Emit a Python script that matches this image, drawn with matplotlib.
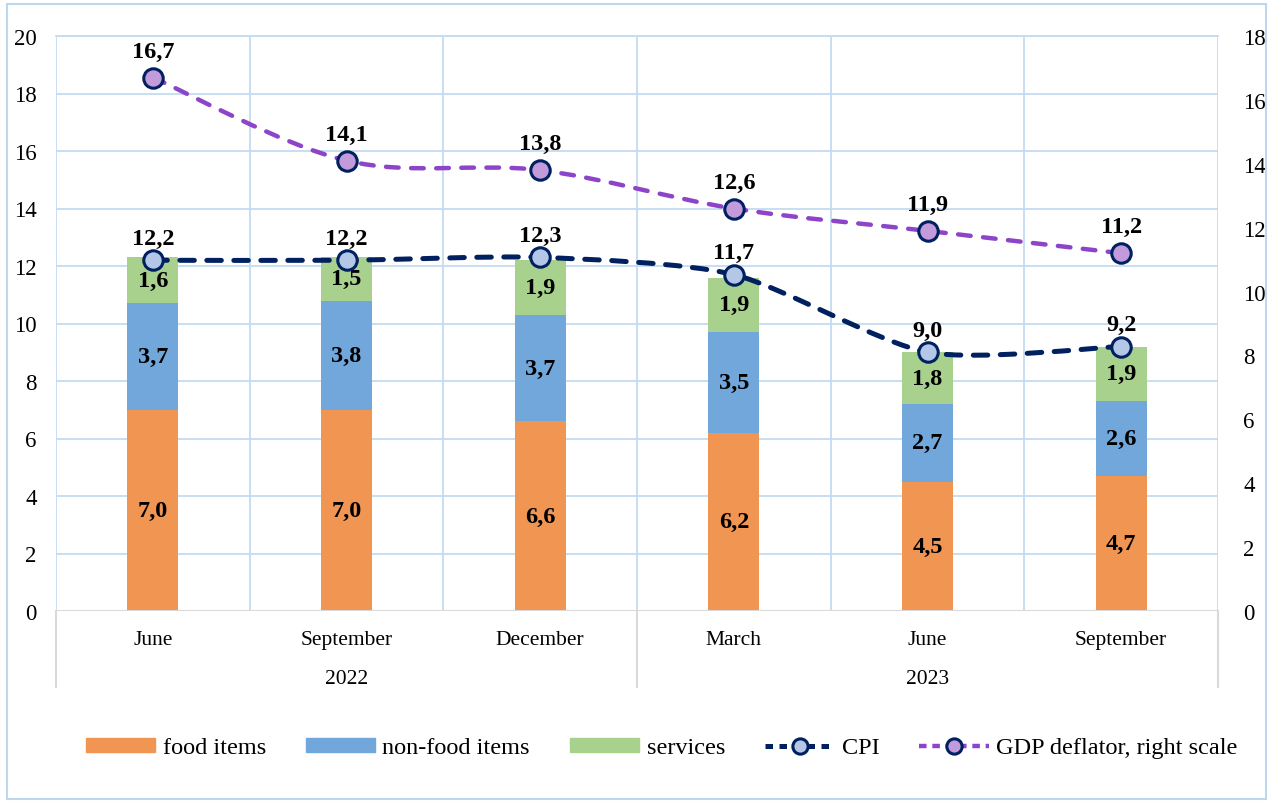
import matplotlib
matplotlib.use("Agg")
import matplotlib.pyplot as plt
import numpy as np
from matplotlib.path import Path
from matplotlib.patches import PathPatch, Patch, Rectangle
from matplotlib.lines import Line2D
import matplotlib.transforms as mtransforms

plt.rcParams['font.family'] = ['Liberation Serif', 'DejaVu Serif']

months = ["June", "September", "December", "March", "June", "September"]
years = ["2022", "2023"]
year_spans = [(0, 2), (3, 5)]
food = [7.0, 7.0, 6.6, 6.2, 4.5, 4.7]
nonfood = [3.7, 3.8, 3.7, 3.5, 2.7, 2.6]
services = [1.6, 1.5, 1.9, 1.9, 1.8, 1.9]
cpi = [12.2, 12.2, 12.3, 11.7, 9.0, 9.2]
gdp = [16.7, 14.1, 13.8, 12.6, 11.9, 11.2]

c_food = '#F19553'
c_nonfood = '#72A7DB'
c_serv = '#A8D18D'
c_cpi = '#002060'
c_cpi_fill = '#B4C7E7'
c_gdp = '#8E44C8'
c_gdp_fill = '#C39BDB'
c_grid = '#C5DBF0'
lbl_size = 17.5


def fmt(v):
    return ("%.1f" % v).replace(".", ",")


def smooth_path(xs, ys, k=6.0):
    # catmull-rom style smoothing as bezier curves (like excel "smoothed line")
    pts = np.column_stack([xs, ys]).astype(float)
    n = len(pts)
    verts = [pts[0]]
    codes = [Path.MOVETO]
    for i in range(n - 1):
        p0 = pts[i - 1] if i > 0 else pts[i]
        p1 = pts[i]
        p2 = pts[i + 1]
        p3 = pts[i + 2] if i + 2 < n else pts[i + 1]
        verts += [p1 + (p2 - p0) / k, p2 - (p3 - p1) / k, p2]
        codes += [Path.CURVE4] * 3
    return Path(verts, codes)


fig = plt.figure(figsize=(12.7, 8.03), dpi=100)
ax = fig.add_axes([56 / 1270, 1 - 612 / 803, 1162 / 1270, 575 / 803])
ax2 = ax.twinx()

x = np.arange(len(months))
w = 0.263
ax.bar(x, food, w, color=c_food, zorder=2)
ax.bar(x, nonfood, w, bottom=food, color=c_nonfood, zorder=2)
bot2 = np.array(food) + np.array(nonfood)
ax.bar(x, services, w, bottom=bot2, color=c_serv, zorder=2)

for i in range(len(x)):
    ax.text(x[i], food[i] / 2, fmt(food[i]), ha='center', va='center', fontsize=lbl_size, fontweight='bold', zorder=5)
    ax.text(x[i], food[i] + nonfood[i] / 2, fmt(nonfood[i]), ha='center', va='center', fontsize=lbl_size, fontweight='bold', zorder=5)
    ax.text(x[i], bot2[i] + services[i] / 2, fmt(services[i]), ha='center', va='center', fontsize=lbl_size, fontweight='bold', zorder=5)

# CPI on left axis
ax.add_patch(PathPatch(smooth_path(x, cpi, 8.0), fill=False, edgecolor=c_cpi, lw=3.6,
                       linestyle=(0, (2.9, 2.5)), capstyle='round', zorder=6))
ax.plot(x, cpi, 'o', ms=14, mfc=c_cpi_fill, mec=c_cpi, mew=2.2, zorder=7)
for i in range(len(x)):
    ax.annotate(fmt(cpi[i]), (x[i], cpi[i]), xytext=(0, 16), textcoords='offset points',
                ha='center', va='center', fontsize=lbl_size, fontweight='bold', zorder=8)

# GDP deflator on right axis
ax2.add_patch(PathPatch(smooth_path(x, gdp), fill=False, edgecolor=c_gdp, lw=3.2,
                        linestyle=(0, (2.85, 2.8)), capstyle='round', zorder=6))
ax2.plot(x, gdp, 'o', ms=14, mfc=c_gdp_fill, mec=c_cpi, mew=2.2, zorder=7)
for i in range(len(x)):
    ax2.annotate(fmt(gdp[i]), (x[i], gdp[i]), xytext=(0, 19), textcoords='offset points',
                 ha='center', va='center', fontsize=lbl_size, fontweight='bold', zorder=8)

ax.set_xlim(-0.5, len(months) - 0.5)
ax.set_ylim(0, 20)
ax2.set_ylim(0, 18)
ax.set_yticks(np.arange(0, 21, 2))
ax2.set_yticks(np.arange(0, 19, 2))
ax.set_xticks(x)
ax.set_xticklabels(months)
ax.set_xticks(np.arange(-0.5, len(months), 1), minor=True)
ax.tick_params(axis='x', which='both', length=0, labelsize=15.5, pad=14)
ax.tick_params(axis='y', length=0, labelsize=16.5, pad=14)
ax2.tick_params(axis='y', length=0, labelsize=16.5, pad=18)
ax.grid(axis='y', color=c_grid, lw=1.3, zorder=0)
ax.grid(axis='x', which='minor', color=c_grid, lw=1.3, zorder=0)
ax.set_axisbelow(True)
for a in (ax, ax2):
    for s in ['top', 'left', 'right', 'bottom']:
        a.spines[s].set_visible(False)
ax.axhline(0, color='#D9D9D9', lw=1.5, zorder=3)
ax.axhline(20, color=c_grid, lw=1.3, zorder=0, clip_on=False)

# year level of category axis
trans = mtransforms.blended_transform_factory(ax.transData, ax.transAxes)
for xs in [-0.5, 2.5, 5.5]:
    ax.add_line(Line2D([xs, xs], [0, -76 / 575], transform=trans, color='#D9D9D9', lw=1.5, clip_on=False))
for yr, (a, b) in zip(years, year_spans):
    ax.text((a + b) / 2, -68 / 575, yr, transform=trans, ha='center', va='center', fontsize=15.5)

handles = [Patch(color=c_food), Patch(color=c_nonfood), Patch(color=c_serv),
           Line2D([], [], color=c_cpi, lw=3.6, linestyle=(0, (1.5, 1.3)), marker='o', ms=11,
                  mfc=c_cpi_fill, mec=c_cpi, mew=2.2),
           Line2D([], [], color=c_gdp, lw=3.2, linestyle=(0, (1.7, 1.3)), marker='o', ms=11,
                  mfc=c_gdp_fill, mec=c_cpi, mew=2.2)]
labels = ["food items", "non-food items", "services", "CPI", "GDP deflator, right scale"]
fig.legend(handles, labels, loc='center', bbox_to_anchor=(0.521, 1 - 749 / 803), ncol=5,
           frameon=False, fontsize=17.5, handlelength=2.85, handleheight=0.55, handletextpad=0.3,
           columnspacing=1.65, numpoints=1)

fig.patches.append(Rectangle((7 / 1270, 3 / 803), 1259 / 1270, 795 / 803, transform=fig.transFigure,
                             fill=False, edgecolor='#BDD7EE', lw=1.5))

fig.savefig("out.png", dpi=100)
